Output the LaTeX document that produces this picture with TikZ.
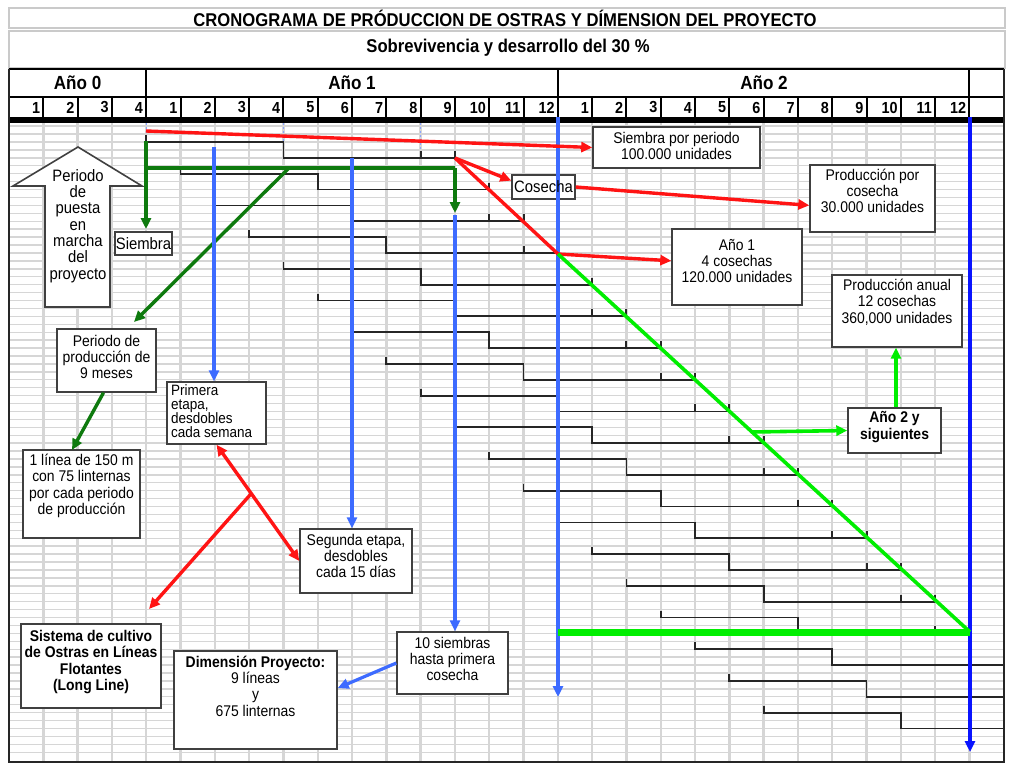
\documentclass[tikz,border=0pt]{standalone}
\usepackage{fontspec}
\setmainfont{Liberation Sans}[FakeStretch=0.9]
\usetikzlibrary{arrows.meta,calc,shadows}
\definecolor{gridgray}{HTML}{D6D6D6}
\definecolor{hdrgray}{HTML}{CACACA}
\definecolor{dgreen}{HTML}{0E7A0E}
\definecolor{lgreen}{HTML}{00EE00}
\definecolor{mblue}{HTML}{3D6BFF}
\definecolor{pblue}{HTML}{0A14FF}
\definecolor{bred}{HTML}{FF1414}
\begin{document}
\begin{tikzpicture}[x=1pt,y=-1pt,
  gantt/.style={black!85, line width=1.8pt},
  tk/.style={black!85, line width=2pt},
  tip/.style={-{Triangle[length=11pt,width=10pt]}},
  rl/.style={bred, line width=3.4pt},
  gl/.style={dgreen, line width=3.4pt},
  bl/.style={mblue, line width=3.2pt},
  lg/.style={lgreen, line width=3.6pt},
  box/.style={draw=black!75, line width=1.4pt, fill=white, inner sep=0pt,
    drop shadow={shadow xshift=1.4pt, shadow yshift=-1.4pt, fill=black!45, opacity=0.8}},
  txt/.style={inner sep=0pt, align=center, font=\fontsize{15.5}{16.3}\selectfont},
  btxt/.style={txt, font=\fontsize{15.5}{16.3}\selectfont\bfseries},
  mnum/.style={inner sep=0pt, font=\fontsize{16}{18}\selectfont\bfseries},
  ylab/.style={inner sep=0pt, font=\fontsize{19}{21}\selectfont\bfseries},
]
\useasboundingbox (0,0) rectangle (1034,779);
\fill[white] (0,0) rectangle (1034,779);

% ---------- grid ----------
\foreach \n in {0,...,79}{
  \draw[gridgray, line width=1.4pt] (9,{126.15+7.925*\n}) -- (1004,{126.15+7.925*\n});
}
\foreach \k in {1,...,28}{
  \draw[gridgray, line width=2.4pt] ({9+34.3*\k},123) -- ({9+34.3*\k},762);
}

% ---------- header ----------
\draw[hdrgray, line width=1.2pt] (9,8) rectangle (1005,28);
\draw[hdrgray, line width=1.2pt] (9,31) rectangle (1005,68);
\node[inner sep=0pt, font=\fontsize{18.5}{20}\selectfont\bfseries] (title) at (505,18)
  {CRONOGRAMA DE PRÓDUCCION DE OSTRAS Y DÍMENSION DEL PROYECTO};
\node[inner sep=0pt, font=\fontsize{18.5}{20}\selectfont\bfseries] (subtitle) at (508,48)
  {Sobrevivencia y desarrollo del 30 \%};

\draw[black, line width=2pt] (9,69) -- (1004,69);
\draw[black, line width=1.6pt] (9,97) -- (1004,97);
\fill[black] (8,117) rectangle (1005,123);
\foreach \k in {4,16,28}{
  \draw[black, line width=2pt] ({9+34.3*\k},69) -- ({9+34.3*\k},117);
}
\foreach \k in {1,...,27}{
  \draw[black, line width=2pt] ({9+34.3*\k},97) -- ({9+34.3*\k},117);
}
\node[ylab] (y0) at (77.6,82.5) {Año 0};
\node[ylab] (y1) at (352,82.5) {Año 1};
\node[ylab] (y2) at (764,82.5) {Año 2};
\foreach \k in {0,...,27}{
  \pgfmathtruncatemacro\m{\k<4 ? \k+1 : (\k<16 ? \k-3 : \k-15)}
  \node[mnum, anchor=east] (m\k) at ({9+34.3*(\k+1)-3},107.5) {\m};
}
\draw[black!85, line width=2pt] (9,69) -- (9,762) -- (1004,762) -- (1004,69);

% small dashed marks
\draw[mblue!60, line width=0.9pt, dash pattern=on 2pt off 2pt] (146.2,123) -- (146.2,137);
\draw[mblue!60, line width=0.9pt, dash pattern=on 2pt off 2pt] (283.4,123) -- (283.4,143);
\draw[mblue!60, line width=0.9pt, dash pattern=on 2pt off 2pt] (420.6,123) -- (420.6,158);

% ---------- gantt ----------
\foreach \i in {0,...,18}{
  \pgfmathsetmacro\ya{142+31.7*\i}
  \pgfmathsetmacro\yb{\ya+15.85}
  \pgfmathsetmacro\xs{9+34.3*(4+\i)}
  \pgfmathsetmacro\xm{9+34.3*(8+\i)}
  \pgfmathsetmacro\xe{min(9+34.3*(13+\i),1004)}
  \draw[gantt] (\xs,\ya-7) -- (\xs,\ya) -- (\xm,\ya) -- (\xm,\yb) -- (\xe,\yb);
  \foreach \t in {12,13}{
    \pgfmathtruncatemacro\kk{\t+\i}
    \ifnum\kk<29
      \draw[tk] ({9+34.3*\kk},\yb-7) -- ({9+34.3*\kk},\yb);
    \fi
  }
}

% ---------- key coordinates ----------
\coordinate (h1) at (455,158);
\coordinate (h4) at (558,254);
\coordinate (h15) at (970,632);
\coordinate (p0) at (146,141);
\coordinate (gA) at (146,168);
\coordinate (gB) at (455,168);

% ---------- boxes ----------
\node[box, minimum width=167pt, minimum height=41pt] (sp) at (676.5,147.5) {};
\node[txt] (sp-t) at (676.5,146) {Siembra por periodo\\100.000 unidades};
\node[box, minimum width=63pt, minimum height=24pt] (cos) at (543.5,187) {};
\node[box, minimum width=125pt, minimum height=67pt] (ppc) at (872.5,198.5) {};
\node[box, minimum width=130pt, minimum height=76pt] (a1) at (737,267) {};
\node[box, minimum width=130pt, minimum height=72pt] (pan) at (897,311) {};
\node[box, minimum width=93pt, minimum height=45pt] (a2) at (894.5,430.5) {};
\node[box, minimum width=57pt, minimum height=23pt] (sie) at (143.5,243.5) {};
\node[box, minimum width=99pt, minimum height=63pt] (ppm) at (106.5,360.5) {};
\node[box, minimum width=117pt, minimum height=88pt] (lin) at (81.5,494) {};
\node[box, minimum width=99pt, minimum height=62pt] (prim) at (216.5,413) {};
\node[box, minimum width=112pt, minimum height=64pt] (seg) at (356,561) {};
\node[box, minimum width=140pt, minimum height=84pt] (sist) at (91,666) {};
\node[box, minimum width=163pt, minimum height=98pt] (dim) at (255.5,700) {};
\node[box, minimum width=111pt, minimum height=62pt] (s10) at (452.5,663) {};

% up arrow shape
\draw[draw=black!75, line width=1.6pt, fill=white, line join=miter]
  (78,147) -- (142,186) -- (110,186) -- (110,307) -- (45,307) -- (45,186) -- (13,186) -- cycle;

% ---------- connectors ----------
% dark green
\draw[gl, tip] (p0) -- (146,229);
\draw[gl] (gA) -- (gB);
\draw[gl, tip] (gB) -- (455,213);
\draw[gl, tip] (289,168) -- (134,322);
\draw[gl, tip] ($(ppm.south west)!0.47!(ppm.south east)$) -- (72,450);
% blue
\draw[bl, tip] (214,147) -- (prim.north -| 214,0);
\draw[bl, tip] (352,158) -- (seg.north -| 352,0);
\draw[bl, tip] (455,215) -- (s10.north -| 455,0);
\draw[mblue, line width=4.6pt, tip] (558,117) -- (558,697);
\draw[pblue, line width=3.6pt, tip] (970,117) -- (970,752);
\draw[bl, tip] (s10.west) -- ($(dim.north east)!0.38!(dim.south east)$);
% red
\draw[rl, tip] (146,131) -- (sp.west);
\draw[rl, tip] (h1) -- ($(cos.north west)!0.25!(cos.south west)$);
\draw[rl] (h1) -- (h4);
\draw[rl, tip] (h4) -- ($(a1.north west)!0.42!(a1.south west)$);
\draw[rl, tip] (cos.east) -- ($(ppc.north west)!0.6!(ppc.south west)$);
\draw[rl, {Triangle[length=11pt,width=10pt]}-{Triangle[length=11pt,width=10pt]}] (prim.south) -- (seg.west);
\coordinate (rb) at ($(prim.south)!0.42!(seg.west)$);
\draw[rl, tip] (rb) -- (149,609);
% light green
\draw[lg] (h4) -- (h15);
\draw[lgreen, line width=7pt] (558,632) -- (h15);
\draw[lg, tip] (751,432) -- (a2.west);
\draw[lg, tip] (a2.north -| 896,0) -- (pan.south -| 896,0);

% ---------- texts ----------
\node[txt, font=\fontsize{16.5}{17}\selectfont] (cos-t) at (543.5,187) {Cosecha};
\node[txt] (ppc-t) at (872.5,191) {Producción por\\cosecha\\30.000 unidades};
\node[txt] (a1-t) at (737,261) {Año 1\\4 cosechas\\120.000 unidades};
\node[txt] (pan-t) at (897,302) {Producción anual\\12 cosechas\\360,000 unidades};
\node[btxt] (a2-t) at (894.5,427) {Año 2 y\\siguientes};
\node[txt, font=\fontsize{16.5}{17}\selectfont] (sie-t) at (143.5,243.5) {Siembra};
\node[txt, font=\fontsize{16.5}{16.3}\selectfont] (pm-t) at (78,226)
  {Periodo\\de\\puesta\\en\\marcha\\del\\proyecto};
\node[txt] (ppm-t) at (106.5,357) {Periodo de\\producción de\\9 meses};
\node[txt] (lin-t) at (81.5,486) {1 línea de 150 m\\con 75 linternas\\por cada periodo\\de producción};
\node[txt, align=left, anchor=west, font=\fontsize{15}{14}\selectfont] (prim-t) at (171,411)
  {Primera\\etapa,\\desdobles\\cada semana};
\node[txt] (seg-t) at (356,556) {Segunda etapa,\\desdobles\\cada 15 días};
\node[btxt] (sist-t) at (91,662) {Sistema de cultivo\\de Ostras en Líneas\\Flotantes\\(Long Line)};
\node[txt] (dim-t) at (255.5,686) {\textbf{Dimensión Proyecto:}\\9 líneas\\y\\675 linternas};
\node[txt] (s10-t) at (452.5,659) {10 siembras\\hasta primera\\cosecha};
\end{tikzpicture}
\end{document}
